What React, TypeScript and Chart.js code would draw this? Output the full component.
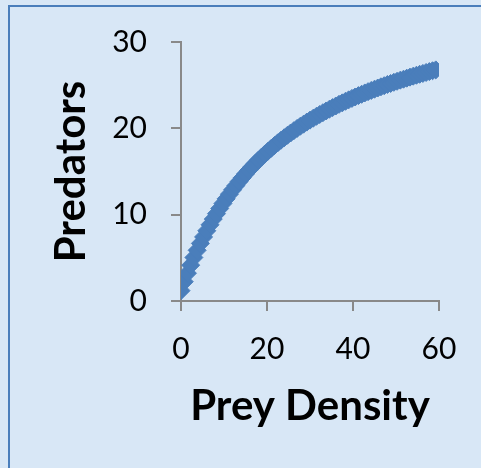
import { useEffect, useRef } from "react";
import { Chart, registerables } from "chart.js";

Chart.register(...registerables);

// Prey density (x) and predator response (y) for each observation
const preyDensity = [
  0, 0.75, 1.5, 2.25, 3, 3.75, 4.5, 5.25, 6, 6.75,
  7.5, 8.25, 9, 9.75, 10.5, 11.25, 12, 12.75, 13.5, 14.25,
  15, 15.75, 16.5, 17.25, 18, 18.75, 19.5, 20.25, 21, 21.75,
  22.5, 23.25, 24, 24.75, 25.5, 26.25, 27, 27.75, 28.5, 29.25,
  30, 30.75, 31.5, 32.25, 33, 33.75, 34.5, 35.25, 36, 36.75,
  37.5, 38.25, 39, 39.75, 40.5, 41.25, 42, 42.75, 43.5, 44.25,
  45, 45.75, 46.5, 47.25, 48, 48.75, 49.5, 50.25, 51, 51.75,
  52.5, 53.25, 54, 54.75, 55.5, 56.25, 57, 57.75, 58.5, 59.25,
];

const predators = [
  1.2, 2.24, 3.22, 4.15, 5.04, 5.87, 6.67, 7.42, 8.14, 8.83,
  9.49, 10.11, 10.71, 11.29, 11.84, 12.37, 12.88, 13.36, 13.83, 14.28,
  14.72, 15.14, 15.54, 15.93, 16.31, 16.67, 17.02, 17.36, 17.69, 18.01,
  18.32, 18.62, 18.91, 19.19, 19.46, 19.73, 19.99, 20.24, 20.48, 20.72,
  20.95, 21.17, 21.39, 21.6, 21.81, 22.01, 22.21, 22.4, 22.59, 22.78,
  22.95, 23.13, 23.3, 23.47, 23.63, 23.79, 23.94, 24.1, 24.25, 24.39,
  24.53, 24.67, 24.81, 24.94, 25.08, 25.2, 25.33, 25.45, 25.58, 25.69,
  25.81, 25.93, 26.04, 26.15, 26.26, 26.36, 26.47, 26.57, 26.67, 26.77,
];

const xTickValues = [0, 20, 40, 60];
const yTickValues = [0, 10, 20, 30];

const xTitle = "Prey Density";
const yTitle = "Predators";

const markerBlue = "#4a7ebb";
const axisGrey = "#898989";

export default function App() {
  const canvasRef = useRef<HTMLCanvasElement>(null);

  useEffect(() => {
    document.body.style.margin = "0";
    const canvas = canvasRef.current;
    if (!canvas) return;

    const points = preyDensity.map((x, i) => ({ x, y: predators[i] }));

    const axisGrid = {
      drawOnChartArea: false,
      drawTicks: true,
      tickLength: 10,
      tickColor: axisGrey,
      tickWidth: 2,
      color: axisGrey,
      lineWidth: 2,
    };

    const chart = new Chart(canvas, {
      type: "scatter",
      data: {
        datasets: [
          {
            data: points,
            pointStyle: "rectRot",
            pointRadius: 9,
            pointBorderWidth: 1,
            backgroundColor: markerBlue,
            borderColor: markerBlue,
            showLine: false,
          },
        ],
      },
      options: {
        responsive: false,
        animation: false,
        devicePixelRatio: 1,
        layout: { padding: { left: 0, top: 42, right: 42, bottom: 0 } },
        plugins: {
          legend: { display: false },
          tooltip: { enabled: false },
        },
        scales: {
          x: {
            type: "linear",
            min: 0,
            max: 60,
            afterBuildTicks: (scale: any) => {
              scale.ticks = xTickValues.map((value) => ({ value }));
            },
            afterFit: (scale: any) => {
              scale.height = 167;
            },
            grid: axisGrid,
            border: { display: true, color: axisGrey, width: 2 },
            ticks: {
              color: "#000",
              font: { family: "Lato", size: 30 },
              padding: 20,
              maxRotation: 0,
            },
            title: {
              display: true,
              text: xTitle,
              color: "#000",
              font: { family: "Lato", size: 42, weight: "bold" },
              padding: { top: 0, bottom: 36 },
            },
          },
          y: {
            type: "linear",
            min: 0,
            max: 30,
            afterBuildTicks: (scale: any) => {
              scale.ticks = yTickValues.map((value) => ({ value }));
            },
            afterFit: (scale: any) => {
              scale.width = 181;
            },
            grid: axisGrid,
            border: { display: true, color: axisGrey, width: 2 },
            ticks: {
              color: "#000",
              font: { family: "Lato", size: 30 },
              padding: 24,
            },
            title: {
              display: true,
              text: yTitle,
              color: "#000",
              font: { family: "Lato", size: 42, weight: "bold" },
              padding: { top: 46, bottom: 0 },
            },
          },
        },
      },
    });

    return () => chart.destroy();
  }, []);

  return (
    <div
      style={{
        position: "fixed",
        left: 0,
        top: 0,
        width: 481,
        height: 468,
        overflow: "hidden",
        background: "#d8e7f6",
      }}
    >
      <div
        style={{
          position: "absolute",
          left: 8,
          top: 5,
          width: 600,
          height: 600,
          border: "2px solid #4a7ebb",
        }}
      />
      <canvas
        ref={canvasRef}
        width={481}
        height={468}
        style={{ position: "absolute", left: 0, top: 0 }}
      />
    </div>
  );
}
